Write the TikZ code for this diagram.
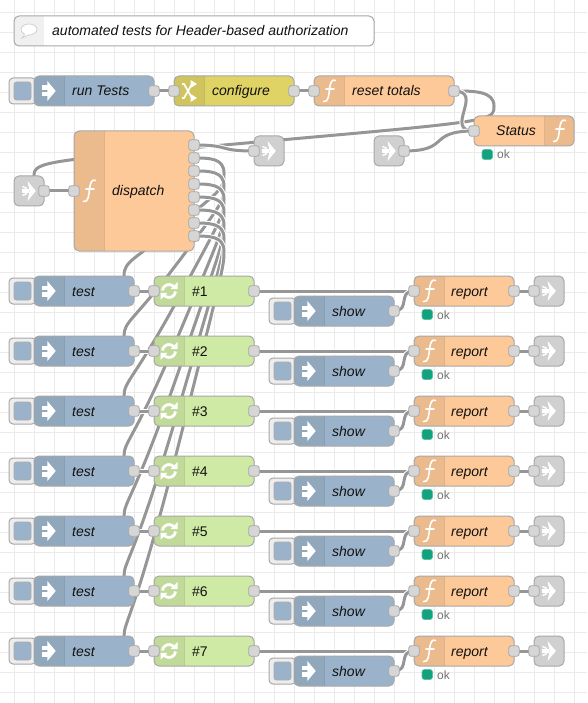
\documentclass[tikz,border=0pt]{standalone}
\usepackage{fontspec}
\setmainfont{Liberation Sans}
\pgfdeclarelayer{gridlayer}
\pgfdeclarelayer{wires}
\pgfsetlayers{gridlayer,wires,main}
\definecolor{cblue}{HTML}{9BB3CA}
\definecolor{corange}{HTML}{FDC998}
\definecolor{cgreen}{HTML}{CFEAA5}
\definecolor{cyellow}{HTML}{DED364}
\definecolor{cgrey}{HTML}{D0D0D0}
\definecolor{cedge}{HTML}{A8A8A8}
\definecolor{cwire}{HTML}{969696}
\definecolor{cgrid}{HTML}{EBEBEB}
\definecolor{cstat}{HTML}{12A37E}
\definecolor{cport}{HTML}{D6D6D6}
\definecolor{ctxt}{HTML}{111111}
\tikzset{
  nodebody/.style={rectangle,rounded corners=5pt,inner sep=0pt,outer sep=0pt},
  nodeedge/.style={draw=cedge,line width=1pt},
  port/.style={rectangle,draw=cedge,fill=cport,rounded corners=2.5pt,minimum size=10.5pt,inner sep=0pt,line width=.8pt},
  lbl/.style={anchor=base west,inner sep=0pt,text=ctxt,font=\fontsize{14}{16}\selectfont\itshape},
  lblr/.style={anchor=base west,inner sep=0pt,text=ctxt,font=\fontsize{14}{16}\selectfont},
  oklbl/.style={anchor=base west,inner sep=0pt,text=black!55,font=\fontsize{12}{14}\selectfont},
  wirecore/.style={draw=cwire,line width=3pt,preaction={draw=white,line width=5pt}},
  icon/.style={draw=white,line width=1.6pt,line cap=round},
  btnouter/.style={fill=black!7,draw=cedge,line width=1pt,rounded corners=4pt},
  btninner/.style={fill=cblue,draw=cwire!80!white,line width=.8pt,rounded corners=2.5pt},
}
\newdimen\wirex
\newdimen\wirey
\newcommand\nrbox[7]{%
  \node[nodebody,fill=#6,minimum width=#4pt,minimum height=#5pt] (#1) at ({#2+#4/2},{#3+#5/2}) {};
  \begin{scope}
    \clip[rounded corners=5pt] (#2,#3) rectangle ++(#4,#5);
    \fill[#6!93!black] ({#2+#7},#3) rectangle ++(30,#5);
    \draw[#6!88!black,line width=.8pt] ({#2+#7},#3) -- ++(0,#5);
    \draw[#6!88!black,line width=.8pt] ({#2+#7+30},#3) -- ++(0,#5);
  \end{scope}
  \draw[nodeedge,rounded corners=5pt] (#2,#3) rectangle ++(#4,#5);
}
\newcommand\nrplain[5]{%
  \node[nodebody,fill=white,minimum width=#4pt,minimum height=#5pt] (#1) at ({#2+#4/2},{#3+#5/2}) {};
  \begin{scope}
    \clip[rounded corners=5pt] (#2,#3) rectangle ++(#4,#5);
    \fill[black!6] (#2,#3) rectangle ++(30,#5);
  \end{scope}
  \draw[nodeedge,rounded corners=5pt] (#2,#3) rectangle ++(#4,#5);
}
\newcommand\nrgrey[3]{%
  \node[nodebody,fill=cgrey,minimum width=30pt,minimum height=30pt] (#1) at ({#2+15},{#3+15}) {};
  \draw[nodeedge,rounded corners=5pt] (#2,#3) rectangle ++(30,30);
  \draw[white,line width=1.5pt] ({#2+8.5},{#3+10.5}) .. controls ({#2+14.5},{#3+10.5}) and ({#2+14.5},{#3+19.5}) .. ({#2+8.5},{#3+19.5});
  \fill[white] ({#2+8},{#3+13.4}) rectangle ({#2+15},{#3+16.6});
  \fill[white] ({#2+13.5},{#3+5}) -- ({#2+21.8},{#3+15}) -- ({#2+13.5},{#3+25}) -- ({#2+15.5},{#3+15}) -- cycle;
}
\newcommand\nrbuttonat[2]{%
  \draw[btnouter] (#1,{#2+2}) rectangle ({#1+27},{#2+28});
  \draw[btninner] ({#1+5},{#2+6}) rectangle ({#1+22},{#2+24});
}
\newcommand\iconinject[2]{%
  \fill[white] ({#1+8.3},{#2-5.5}) rectangle ({#1+14},{#2-1.2});
  \fill[white] ({#1+8.3},{#2+1.2}) rectangle ({#1+14},{#2+5.5});
  \fill[white] ({#1+13.3},{#2-10}) -- ({#1+21.7},{#2}) -- ({#1+13.3},{#2+10}) -- cycle;
}
\newcommand\iconf[2]{%
  \draw[icon] ({#1+21.5},{#2-10.5}) .. controls ({#1+18},{#2-12}) and ({#1+16.5},{#2-9}) .. ({#1+15.5},{#2-2})
     .. controls ({#1+15},{#2+3}) and ({#1+14.5},{#2+12}) .. ({#1+9.5},{#2+10.5});
  \draw[icon] ({#1+12},{#2-1.8}) -- ({#1+20},{#2-1.8});
}
\newcommand\iconsync[2]{%
  \draw[white,line width=2.8pt] ({#1+8.5},{#2-0.5}) arc[start angle=-175,end angle=-42,radius=6.5];
  \fill[white] ({#1+16.5},{#2-1.8}) -- ({#1+23.5},{#2-1.8}) -- ({#1+23.5},{#2-8.8}) -- cycle;
  \draw[white,line width=2.8pt] ({#1+21.5},{#2+0.5}) arc[start angle=5,end angle=138,radius=6.5];
  \fill[white] ({#1+13.5},{#2+1.8}) -- ({#1+6.5},{#2+1.8}) -- ({#1+6.5},{#2+8.8}) -- cycle;
}
\newcommand\iconshuffle[2]{%
  \draw[white,line width=1.7pt] ({#1+8},{#2-7}) -- ({#1+10},{#2-7}) -- ({#1+18},{#2+7});
  \draw[white,line width=1.7pt] ({#1+8},{#2+7}) -- ({#1+10},{#2+7}) -- ({#1+18},{#2-7});
  \fill[white] ({#1+16.5},{#2-11}) -- ({#1+23},{#2-7}) -- ({#1+16.5},{#2-3}) -- cycle;
  \fill[white] ({#1+16.5},{#2+11}) -- ({#1+23},{#2+7}) -- ({#1+16.5},{#2+3}) -- cycle;
}
\newcommand\nrwire[2]{%
  \begingroup
  \pgfextractx{\wirex}{\pgfpointanchor{#1}{center}}%
  \pgfextracty{\wirey}{\pgfpointanchor{#1}{center}}%
  \pgfmathsetmacro\oX{\wirex}\pgfmathsetmacro\oY{-\wirey}%
  \pgfextractx{\wirex}{\pgfpointanchor{#2}{center}}%
  \pgfextracty{\wirey}{\pgfpointanchor{#2}{center}}%
  \pgfmathsetmacro\dX{\wirex}\pgfmathsetmacro\dY{-\wirey}%
  \pgfmathsetmacro\ddx{\dX-5-(\oX+5)}%
  \pgfmathsetmacro\ddy{\dY-\oY}%
  \begin{pgfonlayer}{wires}
  \ifdim\ddx pt>0pt
    \pgfmathsetmacro\del{veclen(\ddx,\ddy)}%
    \pgfmathsetmacro\sca{\del<100 ? 0.75-0.75*(100-\del)/100 : 0.75}%
    \draw[wirecore] (#1.center) .. controls ({\oX+100*\sca},\oY) and ({\dX-100*\sca},\dY) .. (#2.center);
  \else
    \pgfmathsetmacro\sca{0.4-0.2*max(0,(100-min(abs(\ddx),abs(\ddy)))/100)}%
    \pgfmathsetmacro\midX{floor(\dX-\ddx/2)}%
    \pgfmathsetmacro\midY{floor(\dY-\ddy/2)}%
    \pgfmathsetmacro\yo{(\dY+\midY)/2}%
    \pgfmathsetmacro\topX{\oX+100*\sca}%
    \pgfmathsetmacro\topY{min(\yo-\ddy/2,\oY+15)}%
    \pgfmathsetmacro\botX{\dX-100*\sca}%
    \pgfmathsetmacro\botY{max(\yo,\dY-15)}%
    \pgfmathsetmacro\xo{(\oX+\topX)/2}%
    \pgfmathsetmacro\cay{max(\oY,\topY-15)}%
    \pgfmathsetmacro\cby{min(\midY,\topY+15)}%
    \pgfmathsetmacro\ccy{max(\midY,\botY-15)}%
    \pgfmathsetmacro\cdy{min(\dY,\botY+15)}%
    \draw[wirecore] (#1.center) .. controls (\xo,\oY) and (\topX,\cay) .. (\topX,\topY)
      .. controls (\topX,{2*\topY-\cay}) and (\topX,\cby) .. (\midX,\midY)
      .. controls ({2*\midX-\topX},{2*\midY-\cby}) and (\botX,\ccy) .. (\botX,\botY)
      .. controls (\botX,\cdy) and ({(\dX+\botX)/2},\dY) .. (#2.center);
  \fi
  \end{pgfonlayer}
  \endgroup
}
\begin{document}
\begin{tikzpicture}[x=1pt,y=-1pt]
\useasboundingbox (0,0) rectangle (587,703);
\begin{pgfonlayer}{gridlayer}
  \fill[white] (0,0) rectangle (587,703);
  \foreach \gx in {0,...,28} {\draw[cgrid,line width=1pt] ({14.5+20*\gx},0) -- ++(0,703);}
  \foreach \gy in {0,...,34} {\draw[cgrid,line width=1pt] (0,{12.5+20*\gy}) -- ++(587,0);}
\end{pgfonlayer}

% comment
\nrplain{comment}{14}{16}{360}{30}
\draw[black!18,fill=white,line width=.8pt] (29,29.5) ellipse[x radius=8,y radius=5.5];
\fill[white] (22,38) -- (25,33) -- (29,34.5) -- cycle;
\draw[black!18,line width=.8pt] (25,34.3) -- (22,38) -- (29,35);
\node[lbl] (commenttext) at (52,36) {automated tests for Header-based authorization};

% top row
\nrbuttonat{9}{76}
\nrbox{runtests}{34}{76}{120}{30}{cblue}{0}
\iconinject{34}{91}
\node[lbl] (runlabel) at (72,96) {run Tests};
\node[port] (runout) at (154,91) {};

\nrbox{configure}{174}{76}{120}{30}{cyellow}{0}
\iconshuffle{174}{91}
\node[lbl] (conflabel) at (212,96) {configure};
\node[port] (confin) at (174,91) {};
\node[port] (confout) at (294,91) {};

\nrbox{reset}{314}{76}{140}{30}{corange}{0}
\iconf{314}{91}
\node[lbl] (resetlabel) at (352,96) {reset totals};
\node[port] (resetin) at (314,91) {};
\node[port] (resetout) at (454,91) {};

% status
\nrbox{status}{474}{116}{100}{30}{corange}{70}
\iconf{544}{131}
\node[lbl] (statuslabel) at (496,136) {Status};
\node[port] (statusin) at (474,131) {};
\draw[fill=cstat,draw=cstat!70!white,rounded corners=2.5pt,line width=.6pt] (482,149.5) rectangle (492.5,159.5);
\node[oklbl] (statusok) at (497,159) {ok};

\nrgrey{linkstat}{374}{136}
\node[port] (linkstatout) at (404,151) {};

\nrgrey{linkend}{254}{136}
\node[port] (linkendin) at (254,151) {};

% dispatch
\nrbox{dispatch}{74}{131}{120}{120}{corange}{0}
\iconf{74}{191}
\node[lbl] (dispatchlabel) at (112,196) {dispatch};
\node[port] (dispatchin) at (74,191) {};
\foreach \i in {1,...,8} {
  \node[port] (dp\i) at (194,{145+13*(\i-1)}) {};
}
\nrgrey{linkstart}{14}{176}
\node[port] (linkstartout) at (44,191) {};

% rows
\foreach \n in {1,...,7} {
  \pgfmathtruncatemacro\yy{276+60*(\n-1)}
  \pgfmathtruncatemacro\cy{\yy+15}
  \pgfmathtruncatemacro\by{\yy+20}
  \pgfmathtruncatemacro\sy{\yy+20}
  \pgfmathtruncatemacro\sc{\yy+35}
  \pgfmathtruncatemacro\sb{\yy+40}
  \pgfmathtruncatemacro\oky{\yy+43}
  \nrbuttonat{9}{\yy}
  \nrbox{test\n}{34}{\yy}{100}{30}{cblue}{0}
  \iconinject{34}{\cy}
  \node[lbl] (testlabel\n) at (72,\by) {test};
  \node[port] (testout\n) at (134,\cy) {};

  \nrbox{num\n}{154}{\yy}{100}{30}{cgreen}{0}
  \iconsync{154}{\cy}
  \node[lblr] (numlabel\n) at (192,\by) {\#\n};
  \node[port] (numin\n) at (154,\cy) {};
  \node[port] (numout\n) at (254,\cy) {};

  \nrbuttonat{269}{\sy}
  \nrbox{show\n}{294}{\sy}{100}{30}{cblue}{0}
  \iconinject{294}{\sc}
  \node[lbl] (showlabel\n) at (332,\sb) {show};
  \node[port] (showout\n) at (394,\sc) {};

  \nrbox{report\n}{414}{\yy}{100}{30}{corange}{0}
  \iconf{414}{\cy}
  \node[lbl] (reportlabel\n) at (451,\by) {report};
  \node[port] (reportin\n) at (414,\cy) {};
  \node[port] (reportout\n) at (514,\cy) {};
  \draw[fill=cstat,draw=cstat!70!white,rounded corners=2.5pt,line width=.6pt] (422,{\yy+33.5}) rectangle (432.5,{\yy+43.5});
  \node[oklbl] (reportok\n) at (437,\oky) {ok};

  \nrgrey{out\n}{534}{\yy}
  \node[port] (outin\n) at (534,\cy) {};
}

% wires
\nrwire{runout}{confin}
\nrwire{confout}{resetin}
\nrwire{resetout}{dispatchin}
\nrwire{resetout}{statusin}
\nrwire{linkstatout}{statusin}
\nrwire{linkstartout}{dispatchin}
\nrwire{dp1}{linkendin}
\foreach \n [evaluate=\n as \p using int(\n+1)] in {1,...,7} {
  \nrwire{dp\p}{numin\n}
}
\foreach \n in {1,...,7} {
  \nrwire{testout\n}{numin\n}
  \nrwire{numout\n}{reportin\n}
  \nrwire{showout\n}{reportin\n}
  \nrwire{reportout\n}{outin\n}
}
\end{tikzpicture}
\end{document}
